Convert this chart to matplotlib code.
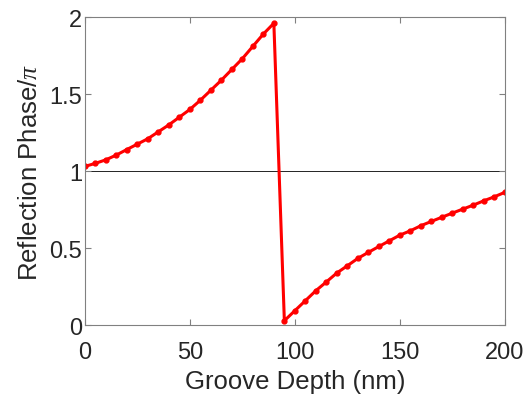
import matplotlib.pyplot as plt

plt.rcParams['font.family'] = ['Liberation Sans', 'DejaVu Sans']
plt.rcParams['mathtext.fontset'] = 'custom'
plt.rcParams['mathtext.it'] = 'Liberation Serif:italic'

# Groove depth (nm) and reflection phase (in units of pi)
depth_a = [0, 5, 10, 15, 20, 25, 30, 35, 40, 45, 50, 55, 60, 65, 70, 75, 80, 85, 90]
phase_a = [1.03, 1.05, 1.073, 1.104, 1.14, 1.175, 1.21, 1.255, 1.30, 1.35,
           1.40, 1.46, 1.525, 1.59, 1.66, 1.73, 1.81, 1.89, 1.96]
depth_b = [95, 100, 105, 110, 115, 120, 125, 130, 135, 140, 145, 150,
           155, 160, 165, 170, 175, 180, 185, 190, 195, 200]
phase_b = [0.028, 0.093, 0.158, 0.223, 0.28, 0.338, 0.385, 0.433, 0.472, 0.51,
           0.547, 0.584, 0.612, 0.645, 0.673, 0.70, 0.727, 0.753, 0.779, 0.807,
           0.833, 0.862]

depth = depth_a + depth_b
phase = phase_a + phase_b

fig = plt.figure(figsize=(5.27, 4.02), dpi=100)
ax = fig.add_axes([0.161, 0.189, 0.797, 0.766])

ax.axhline(1, color='black', linewidth=0.6, zorder=1)
ax.plot(depth, phase, color='red', linewidth=2.2, marker='.', markersize=7, zorder=2)

ax.set_xlim(0, 200)
ax.set_ylim(0, 2)
ax.set_xticks([0, 50, 100, 150, 200])
ax.set_yticks([0, 0.5, 1, 1.5, 2])
ax.set_yticklabels(['0', '0.5', '1', '1.5', '2'])

for s in ax.spines.values():
    s.set_color('#808080')
    s.set_linewidth(0.8)
ax.tick_params(direction='in', top=True, right=True, length=4, width=0.8,
               color='#808080', labelcolor='#262626', labelsize=17)
ax.tick_params(axis='x', pad=11.5)
ax.tick_params(axis='y', pad=2)

ax.set_xlabel('Groove Depth (nm)', fontsize=18.5, color='#262626', labelpad=4)
ax.set_ylabel(r'Reflection Phase/$\pi$', fontsize=18.5, color='#262626', labelpad=5)

fig.savefig('out.png', dpi=100)
